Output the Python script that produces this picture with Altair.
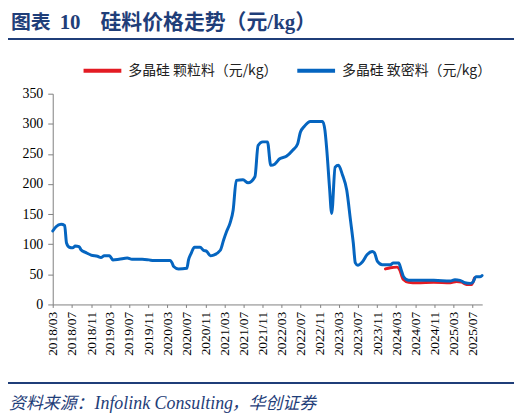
import altair as alt
import pandas as pd

title_parts = ["图表", "10", "硅料价格走势（元/kg）"]
source_parts = ["资料来源：", "Infolink Consulting", "，华创证券"]
series_names = ["多晶硅 颗粒料（元/kg）", "多晶硅 致密料（元/kg）"]
series_colors = ["#E31B23", "#0565C0"]
navy = "#1F3E79"

# 致密料 (blue)
dense_dates = ["2018-03-01", "2018-03-22", "2018-04-23", "2018-05-16", "2018-05-28", "2018-06-15",
               "2018-07-06", "2018-07-23", "2018-08-16", "2018-08-28", "2018-09-30", "2018-11-01",
               "2018-12-12", "2019-01-03", "2019-01-24", "2019-02-26", "2019-03-20", "2019-04-28",
               "2019-06-20", "2019-07-20", "2019-09-23", "2019-11-05", "2019-12-06", "2020-03-20",
               "2020-04-01", "2020-04-11", "2020-05-12", "2020-07-04", "2020-07-15", "2020-08-01",
               "2020-08-22", "2020-09-27", "2020-10-18", "2020-11-09", "2020-12-01", "2020-12-22",
               "2021-02-03", "2021-02-24", "2021-03-15", "2021-04-06", "2021-04-26", "2021-05-16",
               "2021-06-28", "2021-07-30", "2021-09-12", "2021-10-02", "2021-11-01", "2021-12-01",
               "2021-12-22", "2022-01-16", "2022-02-17", "2022-04-01", "2022-05-11", "2022-06-12",
               "2022-06-29", "2022-07-25", "2022-09-01", "2022-11-18", "2022-12-03", "2022-12-15",
               "2023-01-01", "2023-01-15", "2023-02-06", "2023-02-27", "2023-03-25", "2023-04-21",
               "2023-05-15", "2023-06-02", "2023-06-15", "2023-07-01", "2023-07-28", "2023-08-30",
               "2023-10-01", "2023-10-15", "2023-11-02", "2023-12-04", "2024-01-25", "2024-02-12",
               "2024-03-18", "2024-04-02", "2024-04-18", "2024-05-21", "2024-09-16", "2024-10-28",
               "2025-02-10", "2025-03-12", "2025-04-13", "2025-05-15", "2025-06-19", "2025-07-07",
               "2025-07-23", "2025-08-18", "2025-09-01"]
dense_values = [122, 129, 133, 131, 102, 95,
                94, 97, 96, 91, 86, 82,
                80, 78, 81, 81, 74, 75,
                77, 75, 75, 74, 73, 73,
                69, 63, 59, 60, 74, 85,
                95, 95, 90, 88, 81, 82,
                90, 107, 121, 135, 157, 206,
                207, 202, 212, 264, 270, 270,
                231, 233, 242, 246, 256, 267,
                286, 296, 304, 304, 289, 256,
                195, 151, 228, 231, 215, 190,
                140, 102, 69, 65, 70, 83,
                88, 86, 72, 66, 66, 69,
                69, 58, 46, 40, 40, 40,
                39, 41, 40, 36, 35, 38,
                46, 46, 48]

# 颗粒料 (red)
granular_dates = ["2023-12-24", "2024-01-25", "2024-03-07", "2024-03-25", "2024-04-15", "2024-05-21",
                  "2024-07-12", "2024-10-28", "2025-02-10", "2025-03-22", "2025-04-23", "2025-05-25",
                  "2025-06-25", "2025-07-15"]
granular_values = [59, 61, 62, 57, 42, 37,
                   36, 37, 36, 38, 37, 33,
                   33, 44]

tick_labels = ["2018/03", "2018/07", "2018/11", "2019/03", "2019/07", "2019/11", "2020/03",
               "2020/07", "2020/11", "2021/03", "2021/07", "2021/11", "2022/03", "2022/07",
               "2022/11", "2023/03", "2023/07", "2023/11", "2024/03", "2024/07", "2024/11",
               "2025/03", "2025/07"]
y_ticks = [0, 50, 100, 150, 200, 250, 300, 350]

tick_values = [alt.DateTime(year=int(s[:4]), month=int(s[5:]), date=1, utc=True) for s in tick_labels]

df = pd.concat([
    pd.DataFrame({"date": granular_dates, "value": granular_values, "series": series_names[0]}),
    pd.DataFrame({"date": dense_dates, "value": dense_values, "series": series_names[1]}),
], ignore_index=True)

x_enc = alt.X(
    "date:T",
    scale=alt.Scale(type="utc",
                    domain=[alt.DateTime(year=2018, month=3, date=1, utc=True),
                            alt.DateTime(year=2025, month=9, date=2, utc=True)]),
    axis=alt.Axis(values=tick_values, format="%Y/%m", labelAngle=270,
                  labelFont="Liberation Serif", labelFontSize=13.5, labelColor="#000000",
                  tickSize=3, tickColor="#808080", domainColor="#808080",
                  labelPadding=4, grid=False, title=None, labelOverlap=False, labelFlush=False),
)
y_enc = alt.Y(
    "value:Q",
    scale=alt.Scale(domain=[0, 350], nice=False),
    axis=alt.Axis(values=y_ticks, labelFont="Liberation Serif", labelFontSize=14,
                  labelColor="#000000", tickSize=5, tickColor="#808080", domainColor="#808080",
                  labelPadding=5, grid=False, title=None),
)
color_enc = alt.Color(
    "series:N",
    scale=alt.Scale(domain=series_names, range=series_colors),
    legend=alt.Legend(orient="none", legendX=29, legendY=-44, direction="horizontal",
                      title=None, symbolType="stroke", symbolSize=1444, symbolStrokeWidth=4,
                      labelFont="Noto Sans CJK SC", labelFontSize=14, labelColor="#222222",
                      labelOffset=5, columnPadding=11, padding=0),
)

base = alt.Chart(df)
red_line = base.transform_filter(alt.datum.series == series_names[0]).mark_line(
    interpolate="monotone", strokeWidth=3, strokeCap="round").encode(x=x_enc, y=y_enc, color=color_enc)
blue_line = base.transform_filter(alt.datum.series == series_names[1]).mark_line(
    interpolate="monotone", strokeWidth=3, strokeCap="round").encode(x=x_enc, y=y_enc, color=color_enc)

one = pd.DataFrame({"k": [0]})


def text_mark(txt, x, y, size, font, **kw):
    return alt.Chart(one).mark_text(
        text=txt, align="left", baseline="middle", font=font, fontSize=size, color=navy, **kw
    ).encode(x=alt.value(x), y=alt.value(y))


cjk = "Noto Sans CJK SC"
serif = "Liberation Serif"
title1 = text_mark(title_parts[0], -42, -71, 20, cjk, fontWeight="bold")
title2 = text_mark(title_parts[1], 7, -71, 21, serif, fontWeight="bold")
title3 = text_mark(title_parts[2], 48, -71, 21, serif + ", " + cjk, fontWeight="bold")
source1 = text_mark(source_parts[0], -44, 312, 17, cjk, fontStyle="italic")
source2 = text_mark(source_parts[1], 42, 312, 18, serif, fontStyle="italic")
source3 = text_mark(source_parts[2], 180, 312, 17, cjk, fontStyle="italic")

rule_top = alt.Chart(one).mark_rule(color=navy, strokeWidth=2).encode(
    x=alt.value(-45), x2=alt.value(464), y=alt.value(-55))
rule_bottom = alt.Chart(one).mark_rule(color=navy, strokeWidth=2).encode(
    x=alt.value(-45), x2=alt.value(464), y=alt.value(291))

chart = alt.layer(red_line, blue_line, title1, title2, title3, rule_top, rule_bottom,
                  source1, source2, source3).properties(
    width=432, height=212,
    autosize=alt.AutoSizeParams(type="none"),
    padding={"left": 45, "top": 85, "right": 34, "bottom": 110},
).configure_view(stroke=None)

chart.save("out.html", embed_options={"renderer": "svg", "actions": False})
